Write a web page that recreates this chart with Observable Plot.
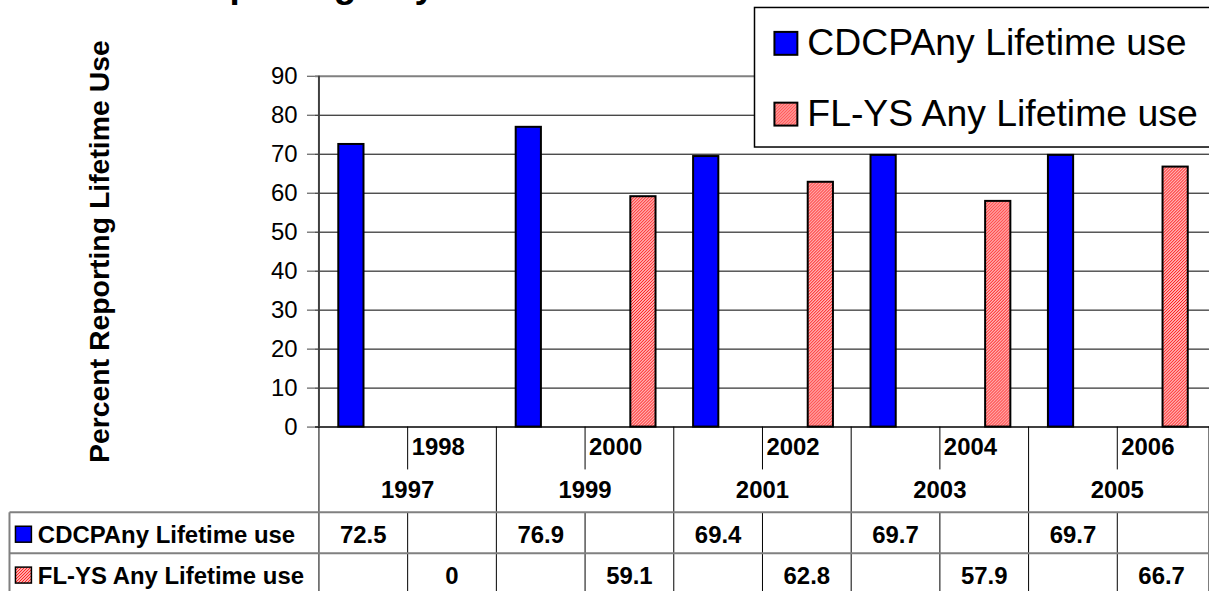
<!DOCTYPE html>
<html><head><meta charset="utf-8">
<script src="https://cdn.jsdelivr.net/npm/d3@7"></script>
<script src="https://cdn.jsdelivr.net/npm/@observablehq/plot@0.6"></script>
<style>
html,body{margin:0;padding:0;overflow:hidden;background:#fff;}
#chart{position:relative;width:1209px;height:593px;overflow:hidden;}
</style></head><body><div id="chart"></div>
<script>
// ---- data ----
const years = ["1997","1998","1999","2000","2001","2002","2003","2004","2005","2006"];
const cdcpValues = [72.5, null, 76.9, null, 69.4, null, 69.7, null, 69.7, null];
const flysValues = [null, 0, null, 59.1, null, 62.8, null, 57.9, null, 66.7];
const seriesNames = ["CDCPAny Lifetime use", "FL-YS Any Lifetime use"];
const yTicks = [0, 10, 20, 30, 40, 50, 60, 70, 80, 90];
const titleText = "Percent Reporting Any Lifetime Use";
const yLabel = "Percent Reporting Lifetime Use";

const FONT = "'Liberation Sans', Arial, Helvetica, sans-serif";
const rows = years.map((year, i) => ({year, cdcp: cdcpValues[i], flys: flysValues[i]}));

const plot = Plot.plot({
  width: 1213, height: 593,
  marginLeft: 316, marginRight: 0, marginTop: 76, marginBottom: 165,
  style: {fontFamily: FONT, background: "white", color: "black"},
  x: {type: "band", domain: years, padding: 0, axis: null},
  y: {domain: [0, 90], label: null},
  marks: [
    Plot.ruleY(yTicks.filter(t => t > 0 && t < 90), {stroke: "black", strokeWidth: 1}),
    Plot.ruleY([90], {stroke: "#808080", strokeWidth: 2}),
    Plot.barY(rows.filter(d => d.cdcp != null), {x: "year", y: "cdcp", fill: "#0000FF", stroke: "black", strokeWidth: 2, insetLeft: 19.4, insetRight: 44.3}),
    Plot.barY(rows.filter(d => d.flys != null), {x: "year", y: "flys", fill: "url(#hatch)", stroke: "black", strokeWidth: 2, insetLeft: 45.4, insetRight: 18.3}),
    Plot.ruleY([0], {stroke: "black", strokeWidth: 1.5}),
    Plot.axisY({ticks: yTicks, tickSize: 8, tickPadding: 10, fontSize: 24, label: null, stroke: "#404040"}),
    Plot.text([yLabel], {text: d => d, frameAnchor: "left", textAnchor: "middle", rotate: -90, dx: -216, fontSize: 28.5, fontWeight: "bold", fill: "black"})
  ]
});

document.getElementById("chart").appendChild(plot);

// ---- post-render decorations using Plot's own scales ----
const svg = d3.select(plot);
const xs = plot.scale("x");
const ys = plot.scale("y");
const bw = xs.bandwidth;
const xStart = v => xs.apply(v);
const yBase = ys.apply(0);
const yTop = ys.apply(90);
const W = 1213, H = 593;

const defs = svg.insert("defs", ":first-child");
const pat = defs.append("pattern").attr("id", "hatch").attr("patternUnits", "userSpaceOnUse").attr("width", 3).attr("height", 3);
pat.append("rect").attr("width", 3).attr("height", 3).attr("fill", "white");
pat.append("path").attr("d", "M-1,1 l2,-2 M0,3 l3,-3 M2,4 l2,-2").attr("stroke", "#FF0000").attr("stroke-width", 1.1);

// y axis line
svg.append("line").attr("x1", xStart(years[0])).attr("x2", xStart(years[0]))
  .attr("y1", yTop).attr("y2", yBase).attr("stroke", "#404040").attr("stroke-width", 2);

// title (mostly cut off above)
svg.append("text").attr("x", 37).attr("y", -3).attr("text-anchor", "start").attr("font-family", FONT).attr("font-weight", "bold")
  .attr("font-size", 37).attr("fill", "black").text(titleText);

// ---- data table ----
const g = svg.append("g").attr("font-family", FONT).attr("fill", "black");
const row1 = yBase + 28.5, row2 = yBase + 72, rowS1 = yBase + 117, rowS2 = yBase + 158;
const hLine1 = yBase + 86, hLine2 = yBase + 127;
const tableLeft = 9.5;

years.forEach((yr, i) => {
  const xl = xStart(yr);
  if (i % 2 === 0) {
    g.append("line").attr("x1", xl).attr("x2", xl).attr("y1", yBase).attr("y2", H).attr("stroke", "black").attr("stroke-width", 1);
  } else {
    g.append("line").attr("x1", xl).attr("x2", xl).attr("y1", yBase).attr("y2", yBase + 43).attr("stroke", "black").attr("stroke-width", 1);
    g.append("line").attr("x1", xl).attr("x2", xl).attr("y1", hLine1).attr("y2", H).attr("stroke", "black").attr("stroke-width", 1);
  }
});
g.append("line").attr("x1", W).attr("x2", W).attr("y1", yBase).attr("y2", H).attr("stroke", "black");

[hLine1, hLine2].forEach(yy => {
  g.append("line").attr("x1", tableLeft).attr("x2", W).attr("y1", yy).attr("y2", yy).attr("stroke", "#808080").attr("stroke-width", 2);
});
g.append("line").attr("x1", tableLeft).attr("x2", tableLeft).attr("y1", hLine1).attr("y2", H).attr("stroke", "#808080").attr("stroke-width", 2);

const tg = g.append("g").attr("font-weight", "bold").attr("font-size", 24);
years.forEach((yr, i) => {
  const xl = xStart(yr);
  if (i % 2 === 1) {
    tg.append("text").attr("x", xl + 4).attr("y", row1).attr("text-anchor", "start").text(yr);
  } else {
    tg.append("text").attr("x", xl + bw).attr("y", row2).attr("text-anchor", "middle").text(yr);
  }
  if (cdcpValues[i] != null) tg.append("text").attr("x", xl + bw / 2).attr("y", rowS1).attr("text-anchor", "middle").text(String(cdcpValues[i]));
  if (flysValues[i] != null) tg.append("text").attr("x", xl + bw / 2).attr("y", rowS2).attr("text-anchor", "middle").text(String(flysValues[i]));
});

// row headers
const fills = ["#0000FF", "url(#hatch)"];
[rowS1, rowS2].forEach((by, k) => {
  g.append("rect").attr("x", 15.5).attr("y", by - 17).attr("width", 16).attr("height", 16)
    .attr("fill", fills[k]).attr("stroke", "black").attr("stroke-width", 1.5);
  tg.append("text").attr("x", 38).attr("y", by).attr("text-anchor", "start").text(seriesNames[k]);
});

// ---- legend ----
const lg = svg.append("g").attr("font-family", FONT);
lg.append("rect").attr("x", 757).attr("y", 7.5).attr("width", 480).attr("height", 140)
  .attr("fill", "white").attr("stroke", "black").attr("stroke-width", 1.5);
[55, 126].forEach((by, k) => {
  lg.append("rect").attr("x", 777).attr("y", by - 23).attr("width", 23).attr("height", 23)
    .attr("fill", fills[k]).attr("stroke", "black").attr("stroke-width", 2);
  lg.append("text").attr("x", 810).attr("y", by).attr("text-anchor", "start").attr("font-size", 37.5).attr("fill", "black").text(seriesNames[k]);
});
</script>
</body></html>
